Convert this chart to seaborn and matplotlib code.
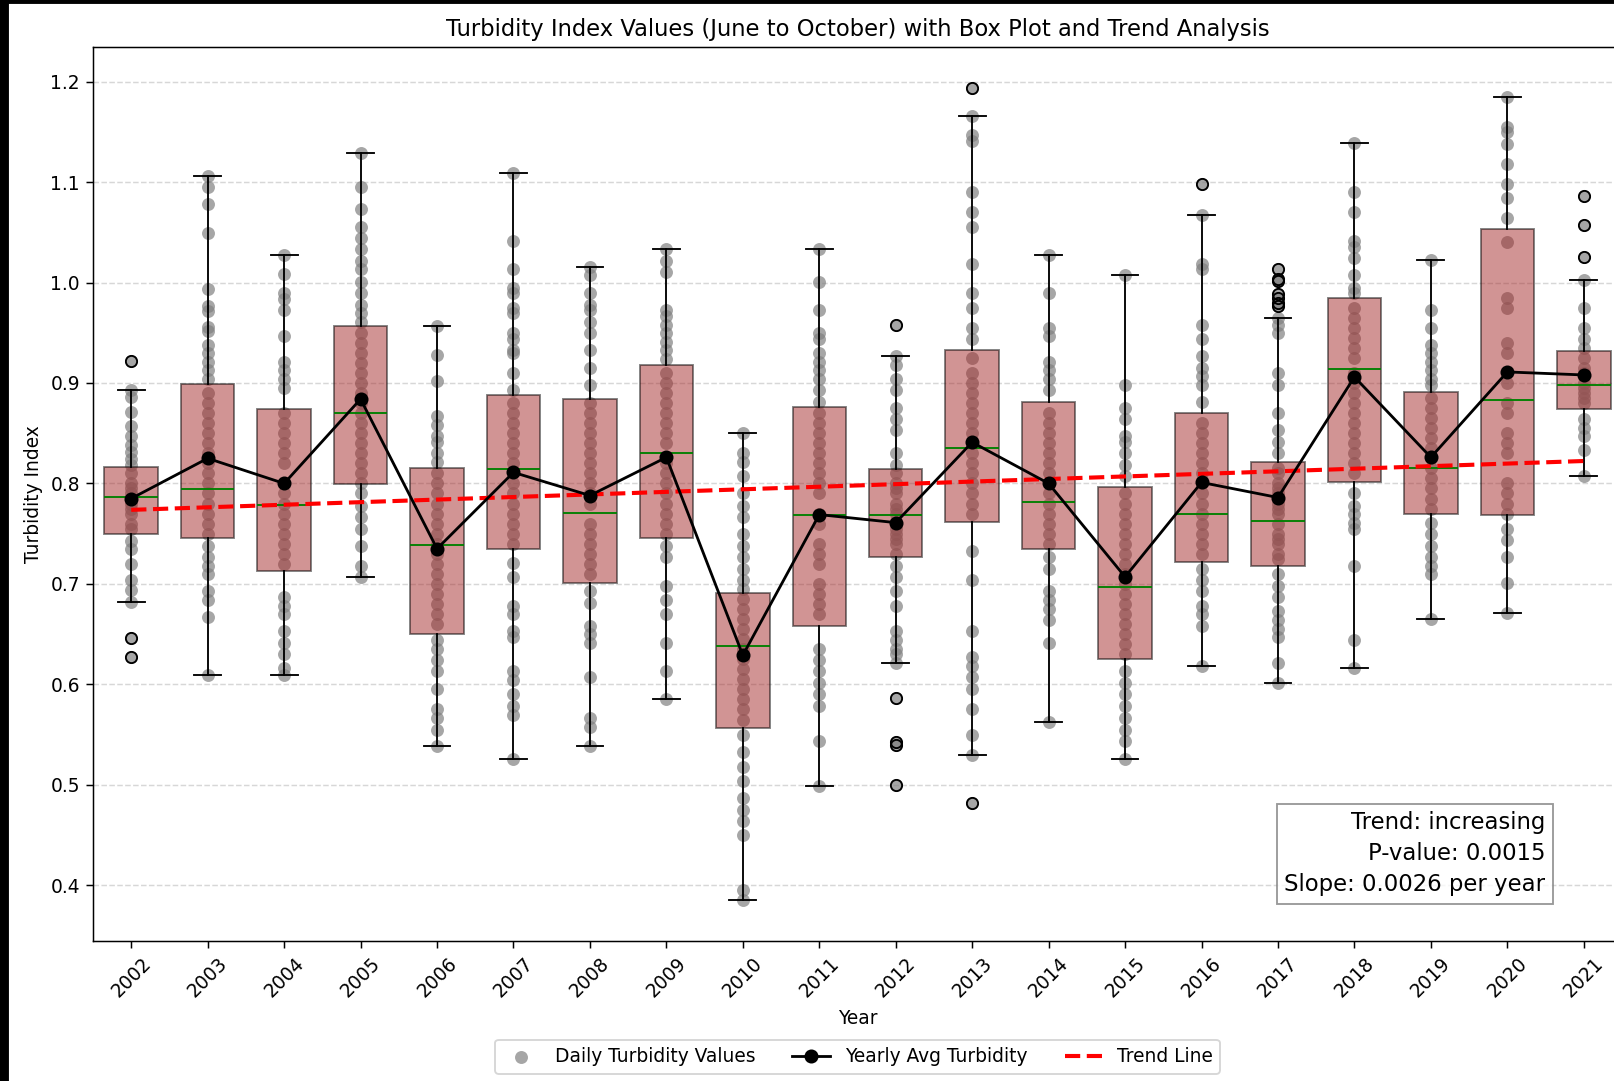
import seaborn as sns
import pandas as pd
import matplotlib.pyplot as plt
from matplotlib.patches import Rectangle

years = list(range(2002, 2022))

# box statistics
whislo = [0.682, 0.609, 0.609, 0.707, 0.539, 0.526, 0.539, 0.585, 0.385, 0.499,
          0.621, 0.530, 0.563, 0.526, 0.618, 0.601, 0.616, 0.665, 0.671, 0.807]
q1 = [0.750, 0.746, 0.713, 0.799, 0.650, 0.735, 0.701, 0.746, 0.557, 0.658,
      0.727, 0.762, 0.735, 0.625, 0.722, 0.718, 0.801, 0.770, 0.769, 0.874]
medians = [0.787, 0.794, 0.779, 0.870, 0.739, 0.814, 0.771, 0.830, 0.638, 0.769,
           0.769, 0.835, 0.782, 0.697, 0.770, 0.763, 0.914, 0.815, 0.883, 0.898]
q3 = [0.816, 0.899, 0.874, 0.957, 0.815, 0.888, 0.884, 0.918, 0.691, 0.876,
      0.814, 0.933, 0.881, 0.796, 0.870, 0.821, 0.985, 0.891, 1.053, 0.932]
whishi = [0.893, 1.106, 1.027, 1.129, 0.957, 1.109, 1.015, 1.033, 0.850, 1.033,
          0.927, 1.166, 1.027, 1.007, 1.067, 0.965, 1.139, 1.022, 1.185, 1.003]
yearly_avg = [0.785, 0.825, 0.800, 0.884, 0.735, 0.811, 0.788, 0.826, 0.629, 0.769,
              0.761, 0.841, 0.800, 0.707, 0.801, 0.786, 0.906, 0.826, 0.911, 0.908]
fliers = {
    2002: [0.922, 0.646, 0.627],
    2012: [0.958, 0.586, 0.543, 0.540, 0.500],
    2013: [1.194, 0.482],
    2016: [1.098],
    2017: [1.013, 1.004, 1.002, 0.989, 0.985, 0.980, 0.977],
    2021: [1.086, 1.057, 1.025],
}

# trend (Sen-style) parameters
trend_start = 0.7737
trend_slope = 0.00256
trend_text = "Trend: increasing\nP-value: 0.0015\nSlope: 0.0026 per year"

# daily values (approximate)
d2002 = [0.893, 0.886, 0.871, 0.857, 0.847, 0.838, 0.831, 0.824, 0.818, 0.81, 0.80, 0.795,
         0.79, 0.78, 0.775, 0.77, 0.76, 0.755, 0.743, 0.735, 0.72, 0.704, 0.694, 0.682]
d2003 = [1.106, 1.095, 1.078, 1.049, 0.994, 0.977, 0.972, 0.956, 0.952, 0.938, 0.930, 0.921,
         0.913, 0.904, 0.89, 0.88, 0.87, 0.86, 0.85, 0.84, 0.83, 0.82, 0.81, 0.80, 0.79, 0.78,
         0.77, 0.76, 0.75, 0.738, 0.727, 0.718, 0.71, 0.693, 0.684, 0.667, 0.609]
d2004 = [1.027, 1.008, 0.99, 0.984, 0.973, 0.947, 0.921, 0.913, 0.904, 0.895, 0.87, 0.86,
         0.85, 0.84, 0.83, 0.82, 0.80, 0.79, 0.78, 0.77, 0.76, 0.75, 0.74, 0.73, 0.72,
         0.687, 0.678, 0.67, 0.653, 0.641, 0.63, 0.616, 0.609]
d2005 = [1.129, 1.095, 1.073, 1.055, 1.044, 1.033, 1.021, 1.013, 1.001, 0.99, 0.978, 0.97,
         0.961, 0.95, 0.94, 0.93, 0.92, 0.91, 0.90, 0.89, 0.88, 0.87, 0.86, 0.85, 0.84, 0.83,
         0.82, 0.81, 0.80, 0.79, 0.778, 0.767, 0.755, 0.738, 0.718, 0.707]
d2006 = [0.957, 0.928, 0.902, 0.867, 0.858, 0.847, 0.841, 0.830, 0.821, 0.81, 0.80, 0.79,
         0.78, 0.77, 0.76, 0.75, 0.74, 0.73, 0.72, 0.71, 0.70, 0.69, 0.68, 0.67, 0.66,
         0.644, 0.635, 0.624, 0.613, 0.595, 0.575, 0.567, 0.555, 0.539]
d2007 = [1.109, 1.041, 1.013, 0.995, 0.99, 0.975, 0.97, 0.95, 0.944, 0.933, 0.93, 0.91,
         0.893, 0.88, 0.87, 0.86, 0.85, 0.84, 0.83, 0.82, 0.80, 0.79, 0.78, 0.77, 0.76, 0.75,
         0.74, 0.721, 0.707, 0.678, 0.67, 0.653, 0.647, 0.613, 0.604, 0.59, 0.578, 0.57, 0.526]
d2008 = [1.015, 1.007, 0.99, 0.978, 0.973, 0.961, 0.95, 0.933, 0.915, 0.898, 0.88, 0.87,
         0.86, 0.85, 0.84, 0.83, 0.82, 0.81, 0.80, 0.79, 0.78, 0.76, 0.75, 0.74, 0.73, 0.72,
         0.71, 0.693, 0.681, 0.658, 0.65, 0.641, 0.607, 0.567, 0.558, 0.539]
d2009 = [1.033, 1.021, 1.01, 0.973, 0.967, 0.958, 0.95, 0.941, 0.933, 0.924, 0.91, 0.90,
         0.89, 0.88, 0.87, 0.86, 0.85, 0.84, 0.82, 0.81, 0.80, 0.79, 0.78, 0.77, 0.76, 0.75,
         0.738, 0.727, 0.698, 0.684, 0.67, 0.641, 0.613, 0.585]
d2010 = [0.85, 0.83, 0.821, 0.807, 0.79, 0.778, 0.767, 0.75, 0.738, 0.727, 0.715, 0.704,
         0.695, 0.685, 0.675, 0.665, 0.655, 0.645, 0.635, 0.625, 0.615, 0.605, 0.595, 0.585,
         0.575, 0.565, 0.55, 0.533, 0.518, 0.504, 0.487, 0.475, 0.464, 0.45, 0.395, 0.385]
d2011 = [1.033, 1.001, 0.973, 0.95, 0.944, 0.93, 0.921, 0.913, 0.904, 0.893, 0.881, 0.87,
         0.86, 0.85, 0.84, 0.83, 0.82, 0.81, 0.80, 0.79, 0.77, 0.76, 0.74, 0.73, 0.72, 0.70,
         0.69, 0.68, 0.67, 0.635, 0.624, 0.613, 0.601, 0.59, 0.578, 0.544, 0.499]
d2012 = [0.927, 0.918, 0.904, 0.893, 0.875, 0.864, 0.853, 0.83, 0.818, 0.81, 0.80, 0.795,
         0.79, 0.78, 0.775, 0.77, 0.76, 0.755, 0.75, 0.745, 0.74, 0.73, 0.718, 0.707, 0.693,
         0.678, 0.653, 0.644, 0.635, 0.63, 0.621]
d2013 = [1.166, 1.147, 1.141, 1.09, 1.07, 1.055, 1.018, 0.99, 0.975, 0.955, 0.944, 0.925,
         0.91, 0.90, 0.89, 0.88, 0.87, 0.86, 0.85, 0.84, 0.83, 0.82, 0.81, 0.80, 0.79, 0.78,
         0.77, 0.733, 0.704, 0.653, 0.627, 0.618, 0.607, 0.595, 0.575, 0.55, 0.53]
d2014 = [1.027, 0.99, 0.955, 0.947, 0.921, 0.913, 0.904, 0.893, 0.87, 0.86, 0.85, 0.84,
         0.83, 0.82, 0.81, 0.80, 0.79, 0.78, 0.77, 0.76, 0.75, 0.74, 0.727, 0.715, 0.693,
         0.684, 0.675, 0.664, 0.641, 0.563]
d2015 = [1.007, 0.898, 0.875, 0.864, 0.847, 0.841, 0.83, 0.818, 0.807, 0.79, 0.78, 0.77,
         0.76, 0.75, 0.74, 0.73, 0.72, 0.71, 0.70, 0.69, 0.68, 0.67, 0.66, 0.65, 0.64, 0.63,
         0.613, 0.601, 0.59, 0.578, 0.567, 0.555, 0.544, 0.526]
d2016 = [1.067, 1.018, 1.013, 0.958, 0.944, 0.927, 0.915, 0.907, 0.898, 0.881, 0.86, 0.85,
         0.84, 0.83, 0.82, 0.81, 0.80, 0.79, 0.78, 0.77, 0.76, 0.75, 0.74, 0.73, 0.715,
         0.704, 0.693, 0.678, 0.67, 0.658, 0.618]
d2017 = [0.965, 0.958, 0.95, 0.91, 0.898, 0.87, 0.853, 0.841, 0.83, 0.815, 0.81, 0.80,
         0.795, 0.79, 0.78, 0.775, 0.77, 0.76, 0.75, 0.745, 0.74, 0.73, 0.725, 0.71, 0.698,
         0.687, 0.673, 0.664, 0.655, 0.647, 0.621, 0.601]
d2018 = [1.139, 1.09, 1.07, 1.041, 1.035, 1.024, 1.007, 0.995, 0.99, 0.975, 0.965, 0.955,
         0.945, 0.935, 0.925, 0.91, 0.90, 0.89, 0.88, 0.87, 0.86, 0.85, 0.84, 0.83, 0.82,
         0.81, 0.79, 0.778, 0.77, 0.761, 0.755, 0.718, 0.644, 0.616]
d2019 = [1.022, 0.973, 0.955, 0.938, 0.93, 0.921, 0.913, 0.904, 0.898, 0.885, 0.875, 0.865,
         0.855, 0.845, 0.835, 0.825, 0.815, 0.805, 0.795, 0.785, 0.775, 0.761, 0.75, 0.738,
         0.727, 0.718, 0.71, 0.665]
d2020 = [1.185, 1.155, 1.15, 1.138, 1.118, 1.098, 1.084, 1.064, 1.04, 0.985, 0.975, 0.94,
         0.93, 0.90, 0.88, 0.87, 0.85, 0.84, 0.83, 0.80, 0.79, 0.78, 0.77, 0.755, 0.744,
         0.727, 0.701, 0.671]
d2021 = [1.003, 0.975, 0.955, 0.944, 0.935, 0.925, 0.915, 0.91, 0.90, 0.895, 0.89, 0.885,
         0.88, 0.864, 0.855, 0.847, 0.833, 0.807]
daily = [d2002, d2003, d2004, d2005, d2006, d2007, d2008, d2009, d2010, d2011,
         d2012, d2013, d2014, d2015, d2016, d2017, d2018, d2019, d2020, d2021]

# long table of daily points (fliers are days too)
rows = []
for yr, vals in zip(years, daily):
    for v in vals + fliers.get(yr, []):
        rows.append((yr, v))
df = pd.DataFrame(rows, columns=["Year", "Turbidity"])

stats = []
for i, yr in enumerate(years):
    stats.append(dict(whislo=whislo[i], q1=q1[i], med=medians[i], q3=q3[i],
                      whishi=whishi[i], fliers=fliers.get(yr, [])))

fig = plt.figure(figsize=(12, 1081 / 134.5))
ax = fig.add_axes([93 / 1614, 140 / 1081, 1529 / 1614, 894 / 1081])

sns.scatterplot(data=df, x="Year", y="Turbidity", color="gray", alpha=0.7, s=48,
                linewidth=0, ax=ax, label="Daily Turbidity Values", zorder=1)

ax.bxp(stats, positions=years, widths=0.7, patch_artist=True, manage_ticks=False,
       boxprops=dict(facecolor="brown", alpha=0.5),
       medianprops=dict(color="green"),
       whiskerprops=dict(color="black"),
       capprops=dict(color="black"),
       flierprops=dict(marker="o", markerfacecolor="none", markeredgecolor="black"))

ax.plot(years, yearly_avg, "o-", color="black", markersize=6.5, linewidth=1.5,
        label="Yearly Avg Turbidity", zorder=4)

trend = [trend_start + trend_slope * (y - years[0]) for y in years]
ax.plot(years, trend, "--", color="red", linewidth=2.2, label="Trend Line", zorder=3)

ax.text(0.95, 0.05, trend_text, transform=ax.transAxes, fontsize=12.2,
        ha="right", va="bottom", linespacing=1.45,
        bbox=dict(facecolor="white", edgecolor="gray", alpha=0.8))

ax.set_xlim(years[0] - 0.5, years[-1] + 0.5)
ax.set_xticks(years)
ax.set_xticklabels([str(y) for y in years], rotation=45)
ax.set_xlabel("Year")
ax.set_ylabel("Turbidity Index")
ax.set_title("Turbidity Index Values (June to October) with Box Plot and Trend Analysis",
             fontsize=12.15)
ax.yaxis.grid(True, linestyle="--", alpha=0.5)
ax.xaxis.grid(False)
ax.set_axisbelow(True)
ax.legend(loc="upper center", bbox_to_anchor=(0.5, -0.10), ncol=3)

# dark screenshot edge
fig.patches.append(Rectangle((0, 0), 8 / 1614, 1, transform=fig.transFigure,
                             color="black", zorder=10))
fig.patches.append(Rectangle((0, 1 - 3 / 1081), 1, 3 / 1081, transform=fig.transFigure,
                             color="black", zorder=10))

fig.savefig("out.png", dpi=134.5)
